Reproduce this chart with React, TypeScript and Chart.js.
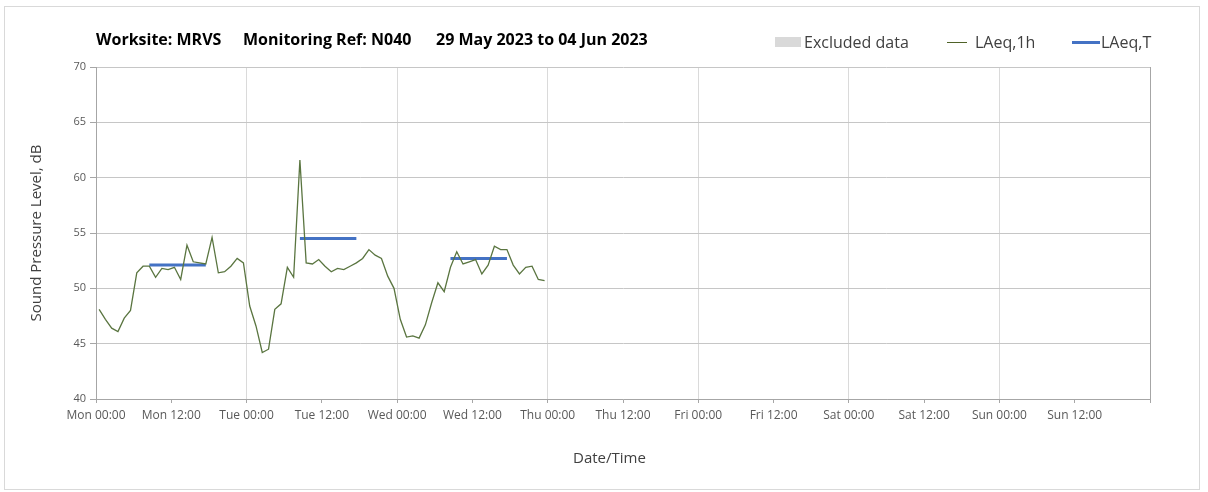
import React, { useEffect, useRef } from "react";
import { Chart, registerables } from "chart.js";

Chart.register(...registerables);

// ---- data ----
const tickLabels = [
  "Mon 00:00", "Mon 12:00", "Tue 00:00", "Tue 12:00", "Wed 00:00", "Wed 12:00",
  "Thu 00:00", "Thu 12:00", "Fri 00:00", "Fri 12:00", "Sat 00:00", "Sat 12:00",
  "Sun 00:00", "Sun 12:00", "",
];

// hourly LAeq,1h values from Mon 00:00 (plotted at hour centres)
const laeq1h = [
  48.1, 47.2, 46.4, 46.1, 47.3, 48.0, 51.4, 52.0, 52.0, 51.0, 51.8, 51.7,
  51.9, 50.8, 53.9, 52.4, 52.3, 52.2, 54.6, 51.4, 51.5, 52.0, 52.7, 52.3,
  48.4, 46.6, 44.2, 44.5, 48.1, 48.6, 51.9, 51.0, 61.6, 52.3, 52.2, 52.6,
  52.0, 51.5, 51.8, 51.7, 52.0, 52.3, 52.7, 53.5, 53.0, 52.7, 51.1, 50.0,
  47.2, 45.6, 45.7, 45.5, 46.7, 48.7, 50.5, 49.7, 51.9, 53.3, 52.2, 52.4,
  52.6, 51.3, 52.1, 53.8, 53.5, 53.5, 52.1, 51.3, 51.9, 52.0, 50.8, 50.7,
];

// LAeq,T period values (hours from Mon 00:00)
const laeqTStart = [8.5, 32.5, 56.5];
const laeqTEnd = [17.5, 41.5, 65.5];
const laeqTValues = [52.1, 54.5, 52.7];

const yMin = 40;
const yMax = 70;
const yStep = 5;

const FONT = "'Open Sans', 'Liberation Sans', sans-serif";

export default function App() {
  const canvasRef = useRef<HTMLCanvasElement | null>(null);

  useEffect(() => {
    const canvas = canvasRef.current;
    if (!canvas) return;

    const lineData = laeq1h.map((v, i) => ({ x: i + 0.5, y: v }));
    const tData: { x: number; y: number | null }[] = [];
    laeqTValues.forEach((v, i) => {
      tData.push({ x: laeqTStart[i], y: v });
      tData.push({ x: laeqTEnd[i], y: v });
      tData.push({ x: laeqTEnd[i] + 0.1, y: null });
    });

    const chart = new Chart(canvas, {
      type: "line",
      data: {
        datasets: [
          {
            label: "LAeq,1h",
            data: lineData,
            borderColor: "#5a7540",
            borderWidth: 1.3,
            pointRadius: 0,
            tension: 0,
          },
          {
            label: "LAeq,T",
            data: tData as any,
            borderColor: "#4472C4",
            borderWidth: 3,
            pointRadius: 0,
            spanGaps: false,
          },
        ],
      },
      options: {
        animation: false,
        responsive: false,
        maintainAspectRatio: false,
        layout: { padding: { top: 67, right: 58, left: 0, bottom: 0 } },
        plugins: {
          legend: { display: false },
          title: { display: false },
          tooltip: { enabled: false },
        },
        scales: {
          x: {
            type: "linear",
            min: 0,
            max: 168,
            afterBuildTicks: (scale: any) => {
              scale.ticks = tickLabels.map((_, i) => ({ value: i * 12 }));
            },
            afterFit: (scale: any) => {
              scale.height = 93;
            },
            ticks: {
              autoSkip: false,
              maxRotation: 0,
              padding: 5,
              color: "#595959",
              font: { family: FONT, size: 12 },
              callback: (v: any) => tickLabels[Math.round(Number(v) / 12)] ?? "",
            },
            grid: {
              color: (ctx: any) => {
                const v = ctx.tick ? ctx.tick.value : -1;
                if (v === 168) return "#a6a6a6";
                if (v % 24 === 0) return "#dadada";
                return "rgba(0,0,0,0)";
              },
              tickColor: "#a6a6a6",
              tickLength: 4,
              lineWidth: 1,
            },
            border: { color: "#a6a6a6", width: 1 },
            title: {
              display: false,
              text: "Date/Time",
            },
          },
          y: {
            min: yMin,
            max: yMax,
            afterFit: (scale: any) => {
              scale.width = 96;
            },
            ticks: {
              stepSize: yStep,
              padding: 4,
              color: "#595959",
              font: { family: FONT, size: 11 },
            },
            grid: {
              color: "#c6c6c6",
              tickColor: "#a6a6a6",
              tickLength: 6,
              lineWidth: 1,
            },
            border: { color: "#a6a6a6", width: 1 },
            title: {
              display: true,
              text: "Sound Pressure Level, dB",
              color: "#404040",
              font: { family: FONT, size: 15 },
              padding: { top: 28, bottom: 0 },
            },
          },
        },
      },
    });

    return () => chart.destroy();
  }, []);

  const legendText: React.CSSProperties = {
    position: "absolute",
    fontFamily: FONT,
    fontSize: 16,
    color: "#404040",
    lineHeight: "20px",
    top: 32,
    whiteSpace: "nowrap",
  };
  const titleText: React.CSSProperties = {
    position: "absolute",
    fontFamily: FONT,
    fontSize: 16,
    fontWeight: 700,
    color: "#000",
    lineHeight: "20px",
    top: 29,
    whiteSpace: "nowrap",
  };

  return (
    <div
      style={{
        position: "absolute",
        left: 0,
        top: 0,
        width: 1208,
        height: 492,
        background: "#fff",
        overflow: "hidden",
      }}
    >
      <div
        style={{
          position: "absolute",
          left: 4,
          top: 6,
          width: 1196,
          height: 484,
          border: "1px solid #d9d9d9",
          boxSizing: "border-box",
        }}
      />
      <canvas
        ref={canvasRef}
        width={1208}
        height={492}
        style={{ position: "absolute", left: 0, top: 0, width: 1208, height: 492 }}
      />
      <span style={{ ...titleText, left: 96 }}>Worksite: MRVS</span>
      <span style={{ ...titleText, left: 243 }}>Monitoring Ref: N040</span>
      <span style={{ ...titleText, left: 436 }}>29 May 2023 to 04 Jun 2023</span>

      <div style={{ position: "absolute", left: 775, top: 37, width: 26, height: 10, background: "#d9d9d9" }} />
      <span style={{ ...legendText, left: 804 }}>Excluded data</span>
      <div style={{ position: "absolute", left: 947, top: 42, width: 20, height: 1, background: "#4f6228" }} />
      <span style={{ ...legendText, left: 975 }}>LAeq,1h</span>
      <div style={{ position: "absolute", left: 1072, top: 41, width: 28, height: 3, background: "#4472C4" }} />
      <span style={{ ...legendText, left: 1101 }}>LAeq,T</span>

      <span
        style={{
          position: "absolute",
          left: 573,
          top: 447,
          fontFamily: FONT,
          fontSize: 15,
          color: "#404040",
          lineHeight: "20px",
          whiteSpace: "nowrap",
        }}
      >
        Date/Time
      </span>
    </div>
  );
}
